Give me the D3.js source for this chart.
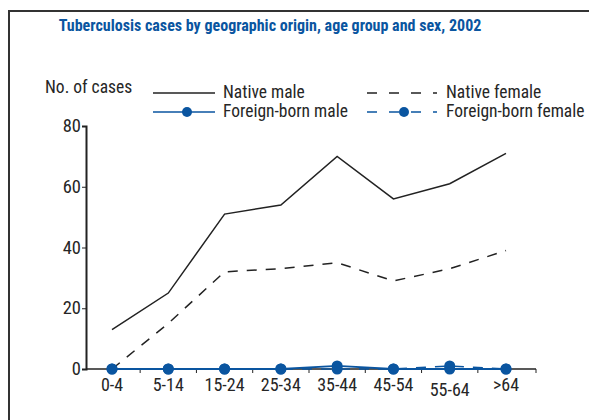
<!DOCTYPE html>
<html><head><meta charset="utf-8">
<script src="https://cdn.jsdelivr.net/npm/d3@7"></script>
<style>body{margin:0;background:#fff;} svg{display:block;}</style>
</head><body>
<script>
const categories = ["0-4","5-14","15-24","25-34","35-44","45-54","55-64",">64"];
const nativeMale = [13,25,51,54,70,56,61,71];
const nativeFemale = [0,15,32,33,35,29,33,39];
const foreignMale = [0,0,0,0,1,0,0,0];
const foreignFemale = [0,0,0,0,0,0,1,0];
const yTicks = [0,20,40,60,80];
const title = "Tuberculosis cases by geographic origin, age group and sex, 2002";

const W = 589, H = 420;
const font = "'Roboto Condensed','Liberation Sans Narrow','Arial Narrow',sans-serif";
const blue = "#0a55a0", dark = "#222", txt = "#262626";
const fs = 17.5;
const svg = d3.select("body").append("svg").attr("width", W).attr("height", H);

svg.append("rect").attr("x", 9).attr("y", 11).attr("width", 600).attr("height", 430)
  .attr("fill", "none").attr("stroke", "#333").attr("stroke-width", 2);

const t = svg.append("text").attr("x", 270).attr("y", 31).attr("text-anchor", "middle")
  .attr("font-family", font).attr("font-weight", "bold").attr("font-size", 16)
  .attr("fill", blue).text(title);
const tw = t.node().getComputedTextLength();
if (tw > 0) t.attr("font-size", Math.min(18, 16 * 423 / tw));

const x = d3.scalePoint().domain(categories).range([112, 506]);
const y = d3.scaleLinear().domain([0, 80]).range([369, 126]);

const yAxis = svg.append("g").attr("transform", "translate(86,0)")
  .call(d3.axisLeft(y).tickValues(yTicks).tickSize(4).tickPadding(1));
const step = x.step();
const xAxisG = svg.append("g").attr("transform", "translate(0,369)");
xAxisG.append("line").attr("x1", 86).attr("x2", 536).attr("stroke", dark).attr("stroke-width", 1.5);
const bounds = categories.map(c => x(c) + step / 2).slice(0, -1).concat([536]);
xAxisG.selectAll(".tk").data(bounds).enter().append("line")
  .attr("x1", d => d).attr("x2", d => d).attr("y1", 0).attr("y2", 4)
  .attr("stroke", dark).attr("stroke-width", 1);
xAxisG.selectAll(".lb").data(categories).enter().append("text")
  .attr("x", d => x(d)).attr("y", (d, i) => i === 6 ? 27 : 22).attr("text-anchor", "middle")
  .attr("font-family", font).attr("font-size", 18).attr("fill", txt).text(d => d);

yAxis.select(".domain").attr("stroke", dark).attr("stroke-width", 2);
yAxis.selectAll(".tick line").attr("stroke", dark);
yAxis.selectAll(".tick text").attr("font-family", font).attr("font-size", 18.5).attr("fill", txt)
  .attr("dy", "0.3em");

const line = d3.line().x((d, i) => x(categories[i])).y(d => y(d));

svg.append("path").datum(nativeFemale).attr("d", line).attr("fill", "none")
  .attr("stroke", dark).attr("stroke-width", 1.5).attr("stroke-dasharray", "10,9");
svg.append("path").datum(nativeMale).attr("d", line).attr("fill", "none")
  .attr("stroke", dark).attr("stroke-width", 1.5);
svg.append("path").datum(foreignFemale).attr("d", line).attr("fill", "none")
  .attr("stroke", blue).attr("stroke-width", 1.5).attr("stroke-dasharray", "10,9");
svg.append("path").datum(foreignMale).attr("d", line).attr("fill", "none")
  .attr("stroke", blue).attr("stroke-width", 1.8);
[foreignMale, foreignFemale].forEach(s => {
  svg.selectAll(null).data(s).enter().append("circle")
    .attr("cx", (d, i) => x(categories[i])).attr("cy", d => y(d)).attr("r", 5.5).attr("fill", blue);
});

svg.append("text").attr("x", 45).attr("y", 93).attr("font-family", font).attr("font-size", fs)
  .attr("fill", txt).text("No. of cases");
const legend = [
  {label: "Native male", x1: 153, len: 62, tx: 223, y: 93, color: dark, dash: null, dot: false},
  {label: "Foreign-born male", x1: 153, len: 62, tx: 223, y: 112, color: blue, dash: null, dot: true},
  {label: "Native female", x1: 367, len: 70, tx: 446, y: 93, color: dark, dash: "10,12", dot: false},
  {label: "Foreign-born female", x1: 367, len: 70, tx: 446, y: 112, color: blue, dash: "10,12", dot: true}
];
legend.forEach(l => {
  svg.append("line").attr("x1", l.x1).attr("x2", l.x1 + l.len).attr("y1", l.y).attr("y2", l.y)
    .attr("stroke", l.color).attr("stroke-width", 1.5).attr("stroke-dasharray", l.dash);
  if (l.dot) svg.append("circle").attr("cx", l.x1 + (l.dash ? 37 : 34)).attr("cy", l.y).attr("r", 5).attr("fill", l.color);
  svg.append("text").attr("x", l.tx).attr("y", l.y + 5).attr("font-family", font)
    .attr("font-size", fs).attr("fill", txt).text(l.label);
});
</script>
</body></html>
